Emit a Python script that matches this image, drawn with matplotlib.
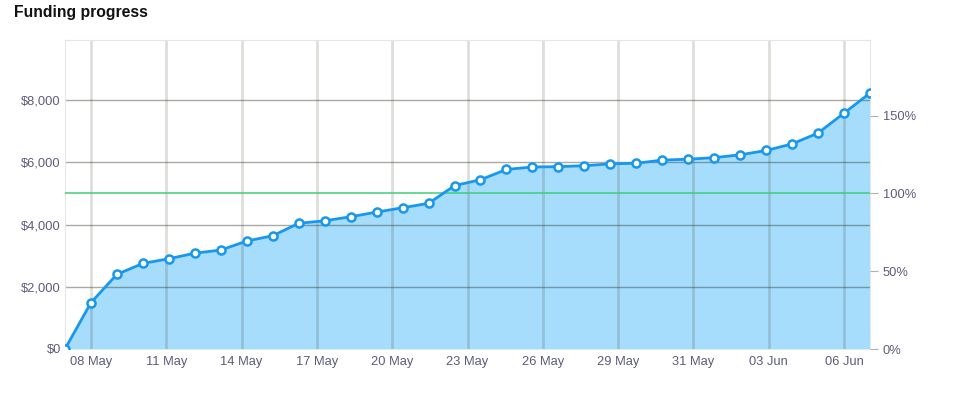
import numpy as np
import matplotlib
matplotlib.use("Agg")
from matplotlib import pyplot as plt
from matplotlib.ticker import FuncFormatter

# daily totals, 07 May .. 07 Jun
raised = [0, 1490, 2400, 2750, 2900, 3080, 3180, 3470, 3640, 4040,
          4120, 4250, 4400, 4540, 4680, 5250, 5440, 5770, 5850, 5860,
          5890, 5950, 5970, 6070, 6100, 6150, 6240, 6380, 6590, 6940,
          7580, 8225]
goal = 5000
tick_labels = ["08 May", "11 May", "14 May", "17 May", "20 May", "23 May",
               "26 May", "29 May", "31 May", "03 Jun", "06 Jun"]
money_ticks = [0, 2000, 4000, 6000, 8000]
pct_ticks = [0, 50, 100, 150]

plt.rcParams['font.family'] = ['Liberation Sans', 'DejaVu Sans']
txt = '#5c5c7c'
blue = '#1798ee'

days = np.arange(len(raised))
ymax = 9930

fig = plt.figure(figsize=(9.67, 4.01), dpi=100)
ax = fig.add_axes([65/967, 52/401, 805/967, 309/401])

ax.fill_between(days, raised, 0, color='#a6dcfc', lw=0, zorder=1)
# grid over the fill, semi transparent so it tints
tick_pos = 1 + 2.9 * np.arange(len(tick_labels))
for t in tick_pos:
    ax.axvline(t, color='#3a3a20', alpha=0.17, lw=2, zorder=2)
for m in money_ticks[1:]:
    ax.axhline(m, color='#2c3a28', alpha=0.42, lw=1, zorder=2)
ax.axhline(goal, color='#3ccf78', lw=1.1, zorder=3)
ax.plot(days, raised, color=blue, lw=2, zorder=4,
        marker='o', ms=5.8, mfc='white', mec=blue, mew=1.8)

ax.set_xlim(0, len(raised) - 1)
ax.set_ylim(0, ymax)
ax.set_xticks(tick_pos)
ax.set_xticklabels(tick_labels)
ax.set_yticks(money_ticks)
ax.yaxis.set_major_formatter(FuncFormatter(lambda v, p: "${:,.0f}".format(v)))
ax.tick_params(axis='both', length=0, labelsize=9.3, labelcolor=txt)
ax.tick_params(axis='y', pad=3)
ax.tick_params(axis='x', pad=5)
for s in ['left', 'top', 'right']:
    ax.spines[s].set_color('#e6e6e6')
ax.spines['bottom'].set_visible(False)

ax2 = ax.twinx()
ax2.set_ylim(0, ymax / goal * 100)
ax2.set_yticks(pct_ticks)
ax2.yaxis.set_major_formatter(FuncFormatter(lambda v, p: "%d%%" % v))
ax2.tick_params(axis='y', length=6, color='#b0b0b0', labelsize=9.3,
                labelcolor=txt, pad=3)
for s in ax2.spines.values():
    s.set_visible(False)

fig.text(14/967, 1 - 13/401, "Funding progress", fontsize=11.3,
         fontweight='bold', va='center', ha='left', color='#111111')

fig.savefig("out.png", dpi=100)
